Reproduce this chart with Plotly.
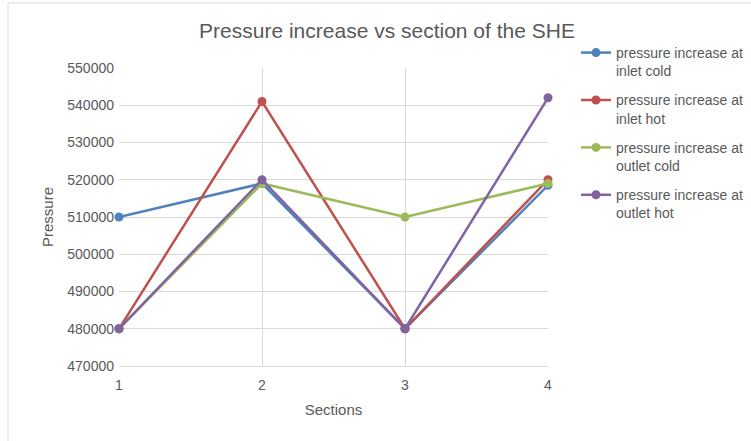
import plotly.graph_objects as go

# Section numbers along the heat exchanger
sections = [1, 2, 3, 4]

# Pressure increase (Pa) for each stream position
inlet_cold = [510000, 519000, 480000, 518500]
inlet_hot = [480000, 541000, 480000, 520000]
outlet_cold = [480000, 519000, 510000, 519000]
outlet_hot = [480000, 520000, 480000, 542000]

series_names = [
    "pressure increase at<br>inlet cold",
    "pressure increase at<br>inlet hot",
    "pressure increase at<br>outlet cold",
    "pressure increase at<br>outlet hot",
]
series_values = [inlet_cold, inlet_hot, outlet_cold, outlet_hot]
colors = ["#4F81BD", "#C0504D", "#9BBB59", "#8064A2"]

y_ticks = [470000, 480000, 490000, 500000, 510000, 520000, 530000, 540000, 550000]

font_family = "Liberation Sans, Arial, sans-serif"
text_gray = "#595959"
grid_gray = "#d9d9d9"

fig = go.Figure()
for i, (name, vals, col) in enumerate(zip(series_names, series_values, colors)):
    fig.add_trace(go.Scatter(
        x=sections, y=vals, name=name, mode="lines+markers",
        legendgroup=f"g{i}", cliponaxis=False,
        line=dict(color=col, width=2.5),
        marker=dict(color=col, size=9),
    ))

fig.update_layout(
    width=751, height=441,
    margin=dict(l=119, r=203, t=68, b=75),
    paper_bgcolor="white", plot_bgcolor="white",
    font=dict(family=font_family, color=text_gray, size=13),
    title=dict(
        text="Pressure increase vs section of the SHE",
        x=387 / 751, xanchor="center", y=1 - 31 / 441, yanchor="middle",
        font=dict(size=21, color=text_gray, family=font_family),
    ),
    xaxis=dict(
        range=[1, 4], tickvals=sections, ticktext=[str(s) for s in sections],
        showgrid=True, gridcolor=grid_gray, gridwidth=1,
        showline=True, linecolor=grid_gray, linewidth=1,
        zeroline=False, ticks="", ticklabelstandoff=6,
        tickfont=dict(size=14, color=text_gray),
        title=dict(text="Sections", font=dict(size=15, color=text_gray), standoff=12),
    ),
    yaxis=dict(
        range=[470000, 550000], tickvals=y_ticks,
        ticktext=[str(v) for v in y_ticks],
        showgrid=True, gridcolor=grid_gray, gridwidth=1,
        showline=False, zeroline=False, ticks="", ticklabelstandoff=4,
        tickfont=dict(size=14, color=text_gray),
        title=dict(text="Pressure", font=dict(size=15, color=text_gray), standoff=10),
    ),
    legend=dict(
        x=576 / 751, xanchor="left", xref="container",
        y=1 - 37 / 441, yanchor="top", yref="container",
        font=dict(size=14, color=text_gray, family=font_family),
        bgcolor="rgba(0,0,0,0)", tracegroupgap=8, itemwidth=30, valign="top",
    ),
    showlegend=True,
)

# Outer chart frame (left and top edges fall inside the page)
fig.add_shape(
    type="rect", xref="paper", yref="paper",
    x0=(8 - 119) / 429, x1=(760 - 119) / 429,
    y0=(366 - 450) / 298, y1=(366 - 3) / 298,
    line=dict(color="#d9d9d9", width=1), fillcolor="rgba(0,0,0,0)", layer="below",
)

fig.write_html("out.html")
